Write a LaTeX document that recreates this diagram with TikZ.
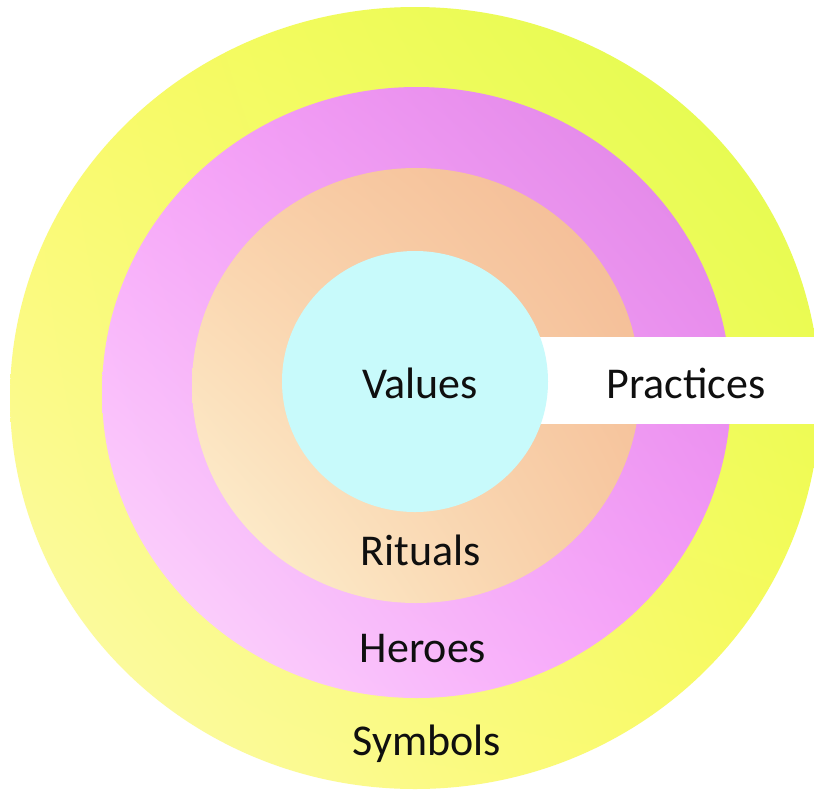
\documentclass[tikz,border=0pt]{standalone}
\usepackage{fontspec}
\setmainfont{Carlito}
\usetikzlibrary{shadings}
\definecolor{txt}{RGB}{15,15,15}
\definecolor{yUL}{RGB}{251,250,100}
\definecolor{yUR}{RGB}{224,252,76}
\definecolor{yLL}{RGB}{252,250,178}
\definecolor{yLR}{RGB}{250,250,92}
\definecolor{mUL}{RGB}{248,162,250}
\definecolor{mUR}{RGB}{222,130,228}
\definecolor{mLL}{RGB}{252,222,252}
\definecolor{mLR}{RGB}{247,156,250}
\definecolor{pUL}{RGB}{250,208,168}
\definecolor{pUR}{RGB}{243,186,148}
\definecolor{pLL}{RGB}{253,244,212}
\definecolor{pLR}{RGB}{248,202,162}
\definecolor{cyanfill}{RGB}{200,250,251}
\tikzset{
  lbl/.style={anchor=base, inner sep=0pt, text=txt, font=\fontsize{44}{50}\selectfont}
}
\begin{document}
\begin{tikzpicture}[x=1pt,y=-1pt]
\useasboundingbox (0,0) rectangle (814,796);
\fill[white] (0,0) rectangle (814,796);
\clip (0,0) rectangle (814,796);
% outer ring (Symbols)
\shade[upper left=yUL, upper right=yUR, lower left=yLL, lower right=yLR]
  (415,398) ellipse [x radius=405, y radius=391];
% Heroes ring
\shade[upper left=mUL, upper right=mUR, lower left=mLL, lower right=mLR]
  (416.5,392.5) ellipse [x radius=314.5, y radius=305.5];
% Rituals ring
\shade[upper left=pUL, upper right=pUR, lower left=pLL, lower right=pLR]
  (416,385.5) ellipse [x radius=224, y radius=217.5];
% Practices band
\fill[white] (415,337) rectangle (814,424);
% Values core
\fill[cyanfill] (415,381.5) ellipse [x radius=133, y radius=130.5];
% labels
\node[lbl] (values) at (420,398) {Values};
\node[lbl] (practices) at (686,398) {Practices};
\node[lbl] (rituals) at (421,565) {Rituals};
\node[lbl] (heroes) at (423,662) {Heroes};
\node[lbl] (symbols) at (427,755) {Symbols};
\end{tikzpicture}
\end{document}
